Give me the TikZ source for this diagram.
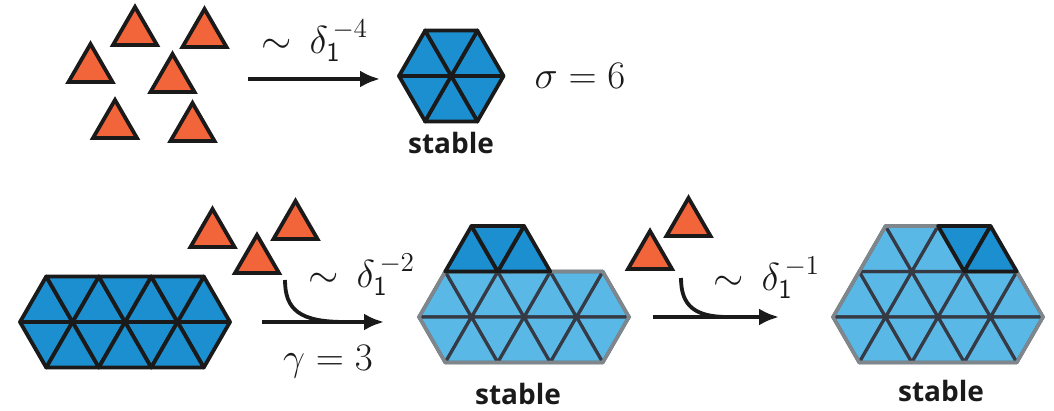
\documentclass[tikz,border=0pt]{standalone}
\usepackage{fix-cm}
\usepackage{fontspec}
\newfontfamily\tagfont{Open Sans}
\usepackage{tikz}
\usetikzlibrary{arrows.meta}
\definecolor{ink}{HTML}{1A1A1A}
\definecolor{monoC}{HTML}{F2643A}
\definecolor{darkC}{HTML}{1C8FD0}
\definecolor{lightC}{HTML}{5AB8E6}
\definecolor{gridC}{HTML}{353A45}
\definecolor{rimC}{HTML}{7F868C}
\tikzset{
  >={Latex[length=10pt,width=8.5pt]},
  flow/.style={->,ink,line width=1.9pt},
  hook/.style={ink,line width=1.9pt},
  mono/.style={draw=ink,fill=monoC,line width=1.9pt,line join=miter},
  dcell/.style={draw=ink,fill=darkC,line width=1.9pt,line join=round},
  lcell/.style={draw=gridC,fill=lightC,line width=1.6pt,line join=round},
  rim/.style={draw=rimC,line width=1.8pt,line join=round},
  mathlab/.style={font=\fontsize{19.5}{23}\selectfont,text=ink,inner sep=0pt},
  tag/.style={font=\fontsize{14}{17}\selectfont\tagfont\bfseries,text=ink,inner sep=0pt},
}
% monomer: base centre x, base y
\newcommand{\monomer}[2]{%
  \draw[mono] (#1-22,#2) -- (#1+22,#2) -- (#1,#2-38) -- cycle;
}
% lattice cells: corner x, corner y, style
\newcommand{\upcell}[3]{%
  \draw[#3] (#1,#2) -- ++(52.5,0) -- ++(-26.25,-45.5) -- cycle;
}
\newcommand{\dncell}[3]{%
  \draw[#3] (#1,#2) -- ++(52.5,0) -- ++(-26.25,45.5) -- cycle;
}
% two-row strip of 14 cells, left tip at (#1,#2)
\newcommand{\strip}[3]{%
  \foreach \k in {0,...,3} {
    \upcell{#1+52.5*\k}{#2}{#3}
    \dncell{#1+52.5*\k}{#2}{#3}
  }
  \foreach \k in {0,1,2} {
    \dncell{#1+26.25+52.5*\k}{#2-45.5}{#3}
    \upcell{#1+26.25+52.5*\k}{#2+45.5}{#3}
  }
}

\begin{document}
\begin{tikzpicture}[x=0.5pt,y=-0.5pt]
\useasboundingbox (0,0) rectangle (1054,411);

% ================= TOP ROW =================
\monomer{135}{45} \monomer{204.5}{47} \monomer{90.5}{82}
\monomer{172.5}{92} \monomer{115}{138} \monomer{192.5}{141}
\coordinate (t0) at (248,79); \coordinate (t1) at (380,79);
\draw[flow] (t0) -- (t1);
\node[mathlab] (k4) at (315,41) {$\sim\,\delta_{\mathsf{1}}^{\,-4}$};
\upcell{399}{76}{dcell} \upcell{451}{76}{dcell} \dncell{425}{30.5}{dcell}
\dncell{399}{76}{dcell} \dncell{451}{76}{dcell} \upcell{425}{121.5}{dcell}
\node[mathlab] (sig) at (580,76) {$\sigma=6$};
\node[tag] (st0) at (451,143) {stable};

% ================= BOTTOM ROW: strip + trimer =================
\strip{20}{322}{dcell}
\monomer{212.5}{247} \monomer{295.5}{239} \monomer{257}{273}
\coordinate (b0) at (262,322); \coordinate (b1) at (384,322);
\coordinate (h0) at (285,280); \coordinate (h1) at (345,322);
\draw[flow] (b0) -- (b1);
\draw[hook] (h0) .. controls (285,310) and (300,322) .. (h1);
\node[mathlab] (k2) at (362,275) {$\sim\,\delta_{\mathsf{1}}^{\,-2}$};
\node[mathlab] (gam) at (328,362) {$\gamma=3$};

\strip{419}{317}{lcell}
\draw[rim] (419,317) -- ++(26.25,-45.5) -- ++(157.5,0) -- ++(26.25,45.5)
  -- ++(-26.25,45.5) -- ++(-157.5,0) -- cycle;
\upcell{445.25}{271.5}{dcell} \upcell{497.75}{271.5}{dcell} \dncell{471.5}{226}{dcell}
\node[tag] (st1) at (518,394) {stable};

% ================= BOTTOM ROW: dimer =================
\monomer{650}{269} \monomer{688.5}{236}
\coordinate (c0) at (653,317); \coordinate (c1) at (779,317);
\coordinate (g0) at (681,278); \coordinate (g1) at (728,317);
\draw[flow] (c0) -- (c1);
\draw[hook] (g0) .. controls (681,306) and (695,317) .. (g1);
\node[mathlab] (k1) at (767,278) {$\sim\,\delta_{\mathsf{1}}^{\,-1}$};

\strip{833}{317}{lcell}
\upcell{859.25}{271.5}{lcell} \upcell{911.75}{271.5}{lcell} \dncell{885.5}{226}{lcell}
\draw[rim] (833,317) -- (859.25,271.5) -- (885.5,226) -- (938,226) -- (964.25,271.5)
  -- (1016.75,271.5) -- (1043,317) -- (1016.75,362.5) -- (859.25,362.5) -- cycle;
\dncell{938}{226}{dcell} \upcell{964.25}{271.5}{dcell}
\node[tag] (st2) at (941,391) {stable};

\end{tikzpicture}
\end{document}
